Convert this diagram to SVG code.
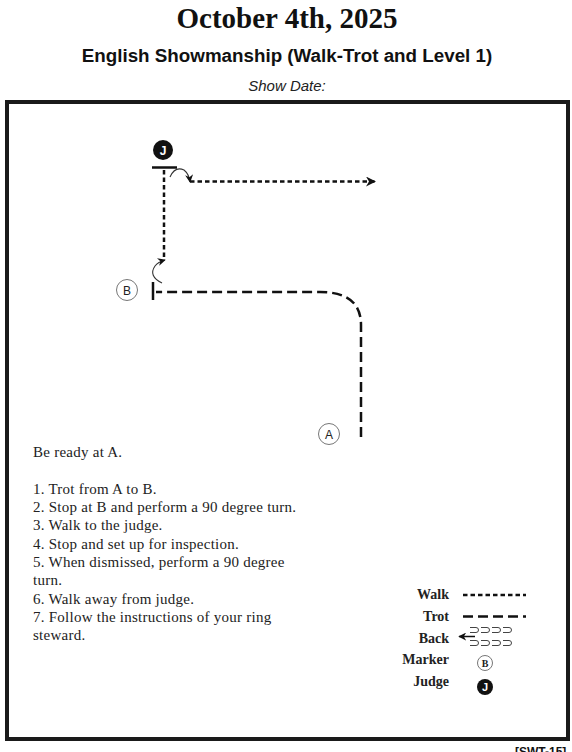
<svg xmlns="http://www.w3.org/2000/svg" width="572" height="752" viewBox="0 0 572 752">
<defs>
<style>
.title{font-family:"Liberation Serif",serif;font-weight:bold;font-size:29px;fill:#111;text-anchor:middle}
.sub{font-family:"Liberation Sans",Arial,sans-serif;font-weight:bold;font-size:18.8px;fill:#111;text-anchor:middle}
.date{font-family:"Liberation Sans",Arial,sans-serif;font-style:italic;font-size:15px;fill:#222;text-anchor:middle}
.body{font-family:"Liberation Serif",serif;font-size:15px;letter-spacing:0.25px;fill:#222}
.leg{font-family:"Liberation Serif",serif;font-weight:bold;font-size:14px;fill:#222;text-anchor:end}
.mk{font-family:"Liberation Sans",Arial,sans-serif;font-size:12px;fill:#222;text-anchor:middle}
.jk{font-family:"Liberation Sans",Arial,sans-serif;font-weight:bold;font-size:12px;fill:#fff;text-anchor:middle}
.walk{fill:none;stroke:#111;stroke-width:2.5;stroke-dasharray:4.5 3}
.trot{fill:none;stroke:#111;stroke-width:2.5;stroke-dasharray:10 5}
.turn{fill:none;stroke:#333;stroke-width:1.1}
.bar{stroke:#111;stroke-width:2.5}
.mcirc{fill:#fff;stroke:#777;stroke-width:1}
</style>
<marker id="ah" viewBox="0 0 10 10" refX="9" refY="5" markerWidth="10" markerHeight="10" markerUnits="userSpaceOnUse" orient="auto">
<path d="M0,0 L10,5 L0,10 L3,5 Z" fill="#111"/>
</marker>
<marker id="ahs" viewBox="0 0 10 10" refX="9" refY="5" markerWidth="8" markerHeight="8" markerUnits="userSpaceOnUse" orient="auto">
<path d="M0,0 L10,5 L0,10 L3,5 Z" fill="#111"/>
</marker>
</defs>
<rect width="572" height="752" fill="#fff"/>
<g id="header">
<text class="title" x="287" y="28">October 4th, 2025</text>
<text class="sub" x="287" y="62">English Showmanship (Walk-Trot and Level 1)</text>
<text class="date" x="287" y="91">Show Date:</text>
</g>
<rect id="frame" x="7" y="102" width="561" height="637" fill="none" stroke="#1a1a1a" stroke-width="4"/>
<g id="connectors">
<path class="trot" d="M361,437 L361,325 Q361,292 320,292 L156,292"/>
<path class="walk" d="M164,170 L164,258"/>
<path class="turn" d="M162,283 Q148,276 155,266 Q158,262 165,260" marker-end="url(#ahs)"/>
<path class="turn" d="M170,177 Q175,166 184,170 Q189,174 190,182" marker-end="url(#ahs)"/>
<path class="walk" d="M190,181.5 L375,181.5" marker-end="url(#ah)"/>
</g>
<g id="judge">
<circle cx="163" cy="150" r="10" fill="#111"/>
<text class="jk" x="163" y="154.5">J</text>
<line class="bar" x1="152" y1="167.5" x2="177" y2="167.5"/>
</g>
<g id="markerB">
<circle class="mcirc" cx="127" cy="290" r="10.5"/>
<text class="mk" x="127" y="294.5">B</text>
<line class="bar" x1="153" y1="282" x2="153" y2="300"/>
</g>
<g id="markerA">
<circle class="mcirc" cx="329" cy="434" r="10.5"/>
<text class="mk" x="329" y="438.5">A</text>
</g>
<g id="instructions">
<text class="body" x="33" y="457">Be ready at A.</text>
<text class="body" x="33" y="494">1. Trot from A to B.</text>
<text class="body" x="33" y="512">2. Stop at B and perform a 90 degree turn.</text>
<text class="body" x="33" y="530">3.  Walk to the judge.</text>
<text class="body" x="33" y="549">4.  Stop and set up for inspection.</text>
<text class="body" x="33" y="567">5. When dismissed, perform a 90 degree</text>
<text class="body" x="33" y="585">turn.</text>
<text class="body" x="33" y="604">6. Walk away from judge.</text>
<text class="body" x="33" y="622">7. Follow the instructions of  your ring</text>
<text class="body" x="33" y="640">steward.</text>
</g>
<g id="legend">
<text class="leg" x="449" y="599">Walk</text>
<line class="walk" x1="463" y1="595" x2="526" y2="595"/>
<text class="leg" x="449" y="621">Trot</text>
<line class="trot" x1="463" y1="616.5" x2="526" y2="616.5"/>
<text class="leg" x="449" y="643">Back</text>
<g fill="none" stroke="#444" stroke-width="1">
<path d="M470,627.5 h6 a2.5,2.5 0 0 1 0,5 h-6 M481,627.5 h6 a2.5,2.5 0 0 1 0,5 h-6 M492,627.5 h6 a2.5,2.5 0 0 1 0,5 h-6 M503,627.5 h6 a2.5,2.5 0 0 1 0,5 h-6"/>
<path d="M470,640.5 h6 a2.5,2.5 0 0 1 0,5 h-6 M481,640.5 h6 a2.5,2.5 0 0 1 0,5 h-6 M492,640.5 h6 a2.5,2.5 0 0 1 0,5 h-6 M503,640.5 h6 a2.5,2.5 0 0 1 0,5 h-6"/>
</g>
<line x1="475" y1="636.5" x2="459" y2="636.5" stroke="#111" stroke-width="1.5" marker-end="url(#ahs)"/>
<text class="leg" x="449" y="664">Marker</text>
<circle class="mcirc" cx="485" cy="663" r="7.5"/>
<text class="mk" x="485" y="667" style="font-family:'Liberation Serif',serif;font-weight:bold;font-size:10px">B</text>
<text class="leg" x="449" y="686">Judge</text>
<circle cx="485" cy="687" r="8" fill="#111"/>
<text class="jk" x="485" y="691" style="font-size:11px">J</text>
</g>
<text x="515" y="756" style="font-family:'Liberation Sans',Arial,sans-serif;font-weight:bold;font-size:12px;fill:#111">[SWT-15]</text>
</svg>
